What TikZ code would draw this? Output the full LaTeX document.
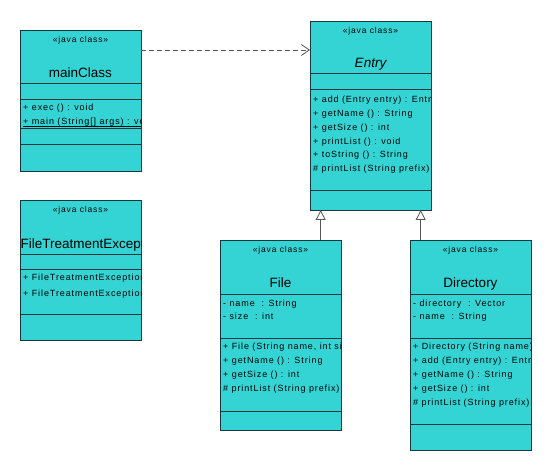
\documentclass[tikz,border=0pt]{standalone}
\usepackage{fontspec}
\setmainfont{Liberation Sans}
\newfontfamily\umlf[LetterSpace=10]{Liberation Sans}
\newfontfamily\stf[LetterSpace=10]{Liberation Sans}
\usetikzlibrary{arrows.meta,calc}
\definecolor{boxfill}{RGB}{52,212,212}
\definecolor{boxline}{RGB}{25,55,60}
\definecolor{conn}{RGB}{85,85,85}
\begin{document}
\begin{tikzpicture}[x=1pt,y=-1pt,
  cls/.style={draw=boxline, fill=boxfill, line width=0.9pt, anchor=north west, inner sep=0pt, outer sep=0pt, minimum width=121pt},
  sepline/.style={draw=boxline, line width=0.8pt},
  stereo/.style={font=\stf\fontsize{8.5}{8.5}\selectfont, anchor=mid, inner sep=0pt},
  cname/.style={font=\fontsize{13.5}{13.5}\selectfont, anchor=mid, inner sep=0pt},
  item/.style={font=\umlf\fontsize{9}{9}\selectfont, anchor=mid west, inner sep=0pt},
  uline/.style={draw=black, line width=0.6pt},
  dep/.style={draw=conn, line width=0.8pt, dash pattern=on 5pt off 3pt, -{Straight Barb[length=8pt,width=11pt]}},
  gen/.style={draw=conn, line width=0.8pt, -{Triangle[open,length=10pt,width=10pt,fill=white]}}]
\useasboundingbox (0,0) rectangle (550,470);

% ---------- mainClass
\node[cls, minimum height=141pt] (main) at (20,30) {};
\draw[sepline] (20,83) -- (141,83);
\draw[sepline] (20,99) -- (141,99);
\draw[sepline] (20,128) -- (141,128);
\draw[sepline] (20,144) -- (141,144);
\begin{scope}
\clip (main.north west) rectangle (main.south east);
\node[stereo] (mainst) at (80.5,39.5) {«java class»};
\node[cname] (mainnm) at (80.5,74.5) {mainClass};
\node[item] (mainop1) at (23,108) {+ exec () : void};
\node[item] (mainop2) at (23,122) {+ main (String[] args) : void};
\draw[uline] ($(mainop2.base west)+(0,1.2)$) -- ($(mainop2.base east)+(0,1.2)$);
\end{scope}

% ---------- FileTreatmentException
\node[cls, minimum height=140pt] (fte) at (20,200) {};
\draw[sepline] (20,254) -- (141,254);
\draw[sepline] (20,269) -- (141,269);
\draw[sepline] (20,314) -- (141,314);
\begin{scope}
\clip (fte.north west) rectangle (fte.south east);
\node[stereo] (ftest) at (80.5,209.5) {«java class»};
\node[cname, anchor=mid west] (ftenm) at (20.5,245.5) {FileTreatmentException};
\node[item] (fteop1) at (23,277.5) {+ FileTreatmentException ()};
\node[item] (fteop2) at (23,293.5) {+ FileTreatmentException (String msg)};
\end{scope}

% ---------- Entry
\node[cls, minimum height=189pt] (entry) at (310,21) {};
\draw[sepline] (310,73) -- (431,73);
\draw[sepline] (310,89) -- (431,89);
\draw[sepline] (310,190) -- (431,190);
\begin{scope}
\clip (entry.north west) rectangle (entry.south east);
\node[stereo] (entryst) at (370.5,30.5) {«java class»};
\node[cname, font=\fontsize{13.5}{13.5}\selectfont\itshape] (entrynm) at (370.5,64.5) {Entry};
\node[item] (entryop1) at (313,99.5) {+ add (Entry entry) : Entry};
\node[item] (entryop2) at (313,113.5) {+ getName () : String};
\node[item] (entryop3) at (313,127.5) {+ getSize () : int};
\node[item] (entryop4) at (313,141.5) {+ printList () : void};
\node[item] (entryop5) at (313,155) {+ toString () : String};
\node[item] (entryop6) at (313,169) {\# printList (String prefix)};
\end{scope}

% ---------- File
\node[cls, minimum height=190pt] (file) at (220,240) {};
\draw[sepline] (220,294) -- (341,294);
\draw[sepline] (220,338) -- (341,338);
\draw[sepline] (220,411) -- (341,411);
\begin{scope}
\clip (file.north west) rectangle (file.south east);
\node[stereo] (filest) at (280.5,249.5) {«java class»};
\node[cname] (filenm) at (280.5,284.5) {File};
\node[item] (fileat1) at (223,303.5) {- name \ : String};
\node[item] (fileat2) at (223,316.5) {- size \ : int};
\node[item] (fileop1) at (223,347) {+ File (String name, int size)};
\node[item] (fileop2) at (223,361) {+ getName () : String};
\node[item] (fileop3) at (223,374.5) {+ getSize () : int};
\node[item] (fileop4) at (223,388.5) {\# printList (String prefix)};
\end{scope}

% ---------- Directory
\node[cls, minimum height=210pt] (dir) at (410,240) {};
\draw[sepline] (410,294) -- (531,294);
\draw[sepline] (410,338) -- (531,338);
\draw[sepline] (410,424) -- (531,424);
\begin{scope}
\clip (dir.north west) rectangle (dir.south east);
\node[stereo] (dirst) at (470.5,249.5) {«java class»};
\node[cname] (dirnm) at (470.5,284.5) {Directory};
\node[item] (dirat1) at (413,303.5) {- directory \ : Vector};
\node[item] (dirat2) at (413,316.5) {- name \ : String};
\node[item] (dirop1) at (413,347) {+ Directory (String name)};
\node[item] (dirop2) at (413,361) {+ add (Entry entry) : Entry};
\node[item] (dirop3) at (413,374.5) {+ getName () : String};
\node[item] (dirop4) at (413,389) {+ getSize () : int};
\node[item] (dirop5) at (413,403) {\# printList (String prefix)};
\end{scope}

% ---------- connectors
\draw[dep] ($(main.north east)+(0,20)$) -- ($(entry.north west)+(0,29)$);
\draw[gen] ($(file.north west)+(100.7,0)$) -- ($(entry.south west)+(10.7,0)$);
\draw[gen] ($(dir.north west)+(10.7,0)$) -- ($(entry.south west)+(110.7,0)$);
\end{tikzpicture}
\end{document}
